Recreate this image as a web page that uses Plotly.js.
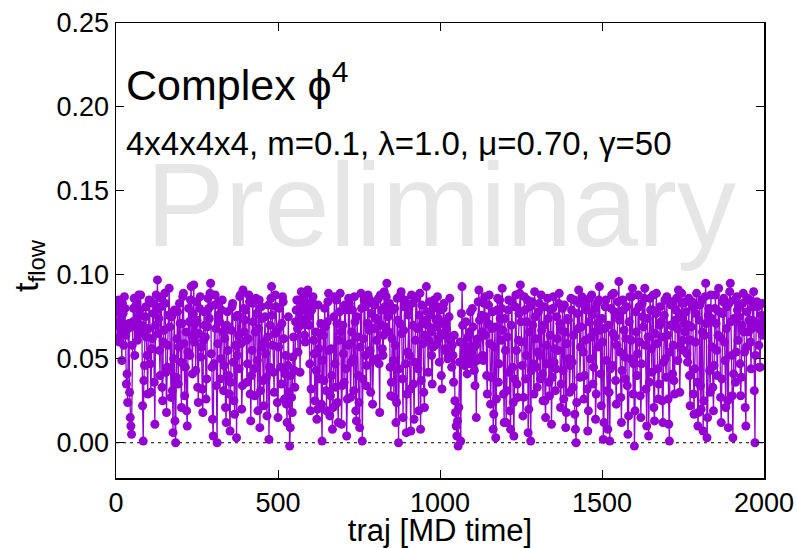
<!DOCTYPE html>
<html>
<head>
<meta charset="utf-8">
<script src="https://cdn.plot.ly/plotly-3.0.1.min.js"></script>
<style>html,body{margin:0;padding:0;background:#fff;}#chart{width:797px;height:548px;}</style>
</head>
<body>
<div id="chart"></div>
<script>
// trajectory numbering of the stored measurements
const trajStart = 0;
const trajStep = 2;
// t_flow values (one per 2 MD time units)
const tflow = [
0.078,0.070,0.062,0.081,0.085,0.060,0.071,0.084,0.066,0.049,0.083,0.077,0.058,0.087,0.080,0.064,0.035,0.041,0.024,0.068,
0.071,0.030,0.015,0.010,0.005,0.058,0.072,0.080,0.086,0.052,0.069,0.082,0.083,0.061,0.075,0.088,0.065,0.079,0.088,0.067,
0.070,0.022,0.001,0.037,0.046,0.075,0.081,0.063,0.052,0.029,0.068,0.085,0.084,0.047,0.030,0.056,0.062,0.083,0.077,0.036,
0.011,0.070,0.088,0.079,0.097,0.065,0.074,0.055,0.040,0.081,0.086,0.033,0.025,0.060,0.067,0.089,0.083,0.042,0.018,0.045,
0.058,0.076,0.092,0.069,0.044,0.027,0.075,0.031,0.006,0.050,0.079,0.013,0.000,0.039,0.062,0.078,0.035,0.057,0.083,0.071,
0.048,0.021,0.071,0.087,0.089,0.059,0.028,0.045,0.066,0.019,0.010,0.054,0.080,0.072,0.052,0.085,0.093,0.064,0.041,0.077,
0.094,0.060,0.071,0.043,0.084,0.073,0.033,0.024,0.065,0.080,0.087,0.051,0.057,0.032,0.018,0.061,0.078,0.070,0.063,0.026,
0.038,0.069,0.086,0.080,0.074,0.089,0.095,0.053,0.045,0.014,0.004,0.047,0.082,0.088,0.068,0.034,0.000,0.059,0.076,0.084,
0.072,0.038,0.050,0.079,0.085,0.066,0.031,0.046,0.062,0.021,0.012,0.070,0.078,0.055,0.040,0.029,0.007,0.036,0.067,0.081,
0.083,0.048,0.025,0.017,0.058,0.075,0.003,0.052,0.076,0.064,0.044,0.087,0.088,0.059,0.020,0.034,0.091,0.080,0.066,0.073,
0.079,0.061,0.036,0.047,0.062,0.088,0.084,0.029,0.013,0.040,0.055,0.083,0.072,0.044,0.028,0.066,0.086,0.077,0.049,0.019,
0.068,0.085,0.009,0.031,0.081,0.074,0.057,0.037,0.022,0.060,0.075,0.053,0.039,0.016,0.063,0.082,0.002,0.045,0.070,0.086,
0.093,0.076,0.058,0.042,0.030,0.065,0.088,0.081,0.067,0.024,0.015,0.057,0.080,0.069,0.045,0.035,0.071,0.087,0.084,0.062,
0.026,0.041,0.052,0.023,0.012,0.046,0.075,0.030,-0.002,0.009,0.040,0.027,0.018,0.051,0.063,0.043,0.033,0.072,0.079,0.085,
0.068,0.054,0.085,0.078,0.042,0.070,0.090,0.082,0.073,0.086,0.088,0.064,0.060,0.079,0.083,0.089,0.091,0.075,0.070,0.047,
0.019,0.032,0.079,0.084,0.087,0.061,0.053,0.025,0.066,0.043,0.014,0.020,0.082,0.056,0.038,0.065,0.071,0.023,0.001,0.049,
0.064,0.037,0.080,0.069,0.031,0.019,0.072,0.084,0.089,0.055,0.016,0.028,0.056,0.040,0.008,0.021,0.075,0.087,0.047,0.033,
0.085,0.071,0.024,0.012,0.061,0.078,0.089,0.066,0.011,0.034,0.070,0.053,0.036,0.082,0.079,0.044,0.004,0.026,0.058,0.086,
0.083,0.059,0.027,0.048,0.066,0.079,0.050,0.031,0.087,0.072,0.019,0.013,0.075,0.063,0.040,0.024,0.009,0.057,0.089,0.080,
0.001,0.038,0.062,0.085,0.081,0.052,0.034,0.046,0.071,0.088,0.086,0.067,0.055,0.030,0.077,0.083,0.023,0.049,0.068,0.082,
0.084,0.074,0.061,0.050,0.073,0.086,0.047,0.018,0.088,0.070,0.079,0.056,0.052,0.064,0.090,0.081,0.069,0.087,0.095,0.078,
0.075,0.066,0.083,0.045,0.028,0.036,0.062,0.079,0.049,0.027,0.080,0.058,0.012,0.024,0.086,0.073,0.000,0.044,0.071,0.088,
0.090,0.065,0.038,0.015,0.067,0.081,0.085,0.047,0.006,0.029,0.054,0.076,0.079,0.052,0.032,0.007,0.088,0.083,0.070,0.035,
0.014,0.048,0.061,0.087,0.086,0.068,0.044,0.019,0.076,0.089,0.008,0.037,0.082,0.071,0.059,0.030,0.021,0.064,0.073,0.093,
0.078,0.070,0.042,0.061,0.084,0.076,0.066,0.052,0.035,0.057,0.080,0.085,0.058,0.069,0.073,0.081,0.087,0.074,0.062,0.048,
0.079,0.065,0.040,0.032,0.071,0.080,0.083,0.064,0.056,0.072,0.068,0.054,0.050,0.063,0.075,0.086,0.061,0.053,0.045,0.058,
0.052,0.036,0.064,0.025,0.018,0.010,0.004,0.013,-0.002,0.021,0.048,0.060,0.001,0.077,0.093,0.070,0.059,0.051,0.046,0.055,
0.072,0.050,0.041,0.063,0.054,0.047,0.066,0.078,0.048,0.053,0.080,0.069,0.057,0.043,0.034,0.058,0.015,0.049,0.062,0.084,
0.091,0.073,0.050,0.051,0.076,0.066,0.052,0.049,0.083,0.087,0.064,0.075,0.040,0.029,0.071,0.082,0.088,0.059,0.023,0.039,
0.068,0.078,0.008,0.017,0.057,0.069,0.003,0.026,0.079,0.086,0.036,0.047,0.085,0.074,0.061,0.080,0.092,0.067,0.029,0.012,
0.074,0.055,0.012,0.031,0.063,0.079,0.085,0.042,0.019,0.008,0.070,0.084,0.045,0.024,0.004,0.038,0.081,0.088,0.055,0.035,
0.027,0.061,0.077,0.089,0.094,0.072,0.060,0.046,0.016,0.027,0.087,0.079,0.038,0.052,0.072,0.085,0.006,0.020,0.066,0.081,
0.001,0.043,0.084,0.070,0.047,0.029,0.090,0.075,0.062,0.045,0.033,0.054,0.078,0.083,0.052,0.038,0.088,0.067,0.041,0.025,
0.070,0.081,0.025,0.015,0.058,0.047,0.086,0.074,0.036,0.028,0.064,0.079,0.011,0.039,0.080,0.087,0.048,0.056,0.031,0.044,
0.075,0.062,0.055,0.083,0.089,0.071,0.021,0.035,0.067,0.080,0.043,0.026,0.082,0.066,0.009,0.018,0.059,0.074,0.073,0.050,
0.030,0.046,0.086,0.079,0.048,0.033,0.064,0.085,0.017,0.008,0.000,0.024,0.077,0.068,0.091,0.083,0.039,0.057,0.069,0.087,
0.084,0.054,0.026,0.040,0.061,0.082,0.079,0.032,0.007,0.019,0.072,0.086,0.050,0.063,0.088,0.076,0.035,0.045,0.066,0.080,
0.014,0.029,0.083,0.071,0.057,0.085,0.093,0.067,0.041,0.022,0.074,0.060,0.002,0.012,0.068,0.081,0.085,0.049,0.031,0.008,
0.070,0.030,0.001,0.044,0.080,0.088,0.046,0.065,0.089,0.078,0.063,0.037,0.023,0.058,0.076,0.084,0.096,0.073,0.054,0.027,
0.012,0.043,0.085,0.079,0.067,0.051,0.038,0.062,0.081,0.034,0.005,0.016,0.072,0.087,0.050,0.061,0.087,0.092,0.029,0.047,
-0.002,0.019,0.078,0.066,0.040,0.053,0.088,0.081,0.060,0.028,0.015,0.047,0.083,0.075,0.069,0.086,0.092,0.058,0.032,0.010,
0.074,0.063,0.004,0.036,0.086,0.079,0.056,0.042,0.079,0.088,0.021,0.013,0.065,0.077,0.089,0.059,0.044,0.026,0.035,0.070,
0.081,0.072,0.063,0.025,0.012,0.048,0.076,0.085,0.050,0.039,0.087,0.064,0.026,0.011,0.001,0.054,0.070,0.082,0.084,0.041,
0.058,0.037,0.029,0.073,0.079,0.086,0.068,0.049,0.091,0.077,0.030,0.057,0.075,0.089,0.083,0.061,0.055,0.071,0.066,0.084,
0.078,0.053,0.048,0.070,0.086,0.040,0.022,0.061,0.069,0.084,0.081,0.029,0.017,0.044,0.060,0.077,0.089,0.036,0.010,0.018,
0.073,0.082,0.034,0.020,0.085,0.066,0.007,0.025,0.064,0.087,0.095,0.071,0.003,0.015,0.076,0.080,0.043,0.030,0.088,0.074,
0.057,0.033,0.019,0.046,0.080,0.088,0.071,0.055,0.040,0.064,0.092,0.078,0.063,0.027,0.012,0.038,0.077,0.084,0.086,0.060,
0.049,0.021,0.068,0.081,0.025,0.009,0.083,0.090,0.095,0.072,0.052,0.028,0.003,0.041,0.074,0.085,0.036,0.054,0.087,0.079,
0.061,0.075,0.082,0.047,0.028,0.039,0.070,0.083,0.089,0.066,0.054,0.021,0.010,0.057,0.078,0.086,0.066,0.073,0.085,0.060,
0.044,0.068,0.073,0.081,0.090,0.031,0.000,0.052,0.069,0.084,0.081,0.071,0.058,0.045,0.045,0.067,0.076,0.083,0.064,0.072
];
const xRange = [0, 2000];
const yRange = [-0.021, 0.25];
const xTicks = [0, 500, 1000, 1500, 2000];
const yTicks = [0.00, 0.05, 0.10, 0.15, 0.20, 0.25];
const yTickText = ["0.00", "0.05", "0.10", "0.15", "0.20", "0.25"];
const titleText = "Complex ϕ<sup>4</sup>";
const subtitleText = "4x4x4x4, m=0.1, λ=1.0, μ=0.70, γ=50";
const watermark = "Preliminary";
const xLabel = "traj [MD time]";
const yLabel = "t<sub>flow</sub>";

const FONT = "Liberation Sans, Arial, sans-serif";
const purple = "#9400d3";

const traces = [
  {
    type: "scatter", mode: "lines",
    x: xRange, y: [0, 0],
    line: {color: "#000", width: 1, dash: "3px,4px"},
    hoverinfo: "skip", showlegend: false
  },
  {
    type: "scatter", mode: "lines+markers",
    x0: trajStart, dx: trajStep, y: tflow,
    line: {color: purple, width: 1.3},
    marker: {color: purple, size: 9},
    showlegend: false
  }
];

const layout = {
  width: 797, height: 548,
  margin: {l: 116, r: 33, t: 23, b: 70},
  paper_bgcolor: "#fff", plot_bgcolor: "#fff",
  font: {family: FONT, color: "#000", size: 27},
  showlegend: false,
  xaxis: {
    range: xRange, tickvals: xTicks, ticktext: xTicks.map(String),
    ticks: "inside", ticklen: 8, tickwidth: 1, tickcolor: "#000",
    showline: true, linecolor: "#000", linewidth: 1.5, mirror: "allticks",
    showgrid: false, zeroline: false,
    tickfont: {family: FONT, size: 27},
    title: {text: xLabel, font: {family: FONT, size: 31}, standoff: 5}
  },
  yaxis: {
    range: yRange, tickvals: yTicks, ticktext: yTickText,
    ticks: "inside", ticklen: 8, tickwidth: 1, tickcolor: "#000",
    showline: true, linecolor: "#000", linewidth: 1.5, mirror: "allticks",
    showgrid: false, zeroline: false,
    tickfont: {family: FONT, size: 27}
  },
  annotations: [
    {text: watermark, xref: "paper", yref: "paper", x: 0.502, y: 0.60,
     xanchor: "center", yanchor: "middle", showarrow: false,
     font: {family: FONT, size: 118, color: "#e6e6e6"}},
    {text: yLabel, xref: "paper", yref: "paper", x: -0.136, y: 0.468,
     xanchor: "center", yanchor: "middle", showarrow: false, textangle: -90,
     font: {family: FONT, size: 34, color: "#000"}},
    {text: titleText, xref: "paper", yref: "paper", x: 0.012, y: 0.87,
     xanchor: "left", yanchor: "middle", showarrow: false,
     font: {family: FONT, size: 43, color: "#000"}},
    {text: subtitleText, xref: "paper", yref: "paper", x: 0.012, y: 0.735,
     xanchor: "left", yanchor: "middle", showarrow: false,
     font: {family: FONT, size: 33, color: "#000"}}
  ]
};

layout.annotations[0].layer = "below";

Plotly.newPlot("chart", traces, layout, {displayModeBar: false, staticPlot: true});
</script>
</body>
</html>
